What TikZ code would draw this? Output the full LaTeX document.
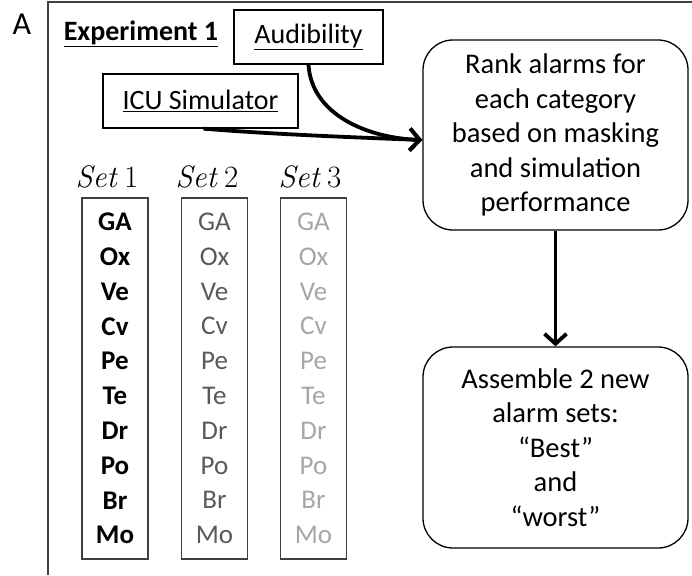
\documentclass[tikz,border=0pt]{standalone}
\usepackage{fontspec}
\setmainfont{Carlito}
\newfontfamily\lmrfont{Latin Modern Roman}
\usetikzlibrary{arrows.meta}
\definecolor{midgray}{HTML}{595959}
\definecolor{lightgray2}{HTML}{A6A6A6}
\definecolor{framegray}{HTML}{404040}
\newcommand{\setlbl}[1]{{\itshape Set\/}\kern0.2em#1}
\begin{document}
\begin{tikzpicture}[x=1pt,y=-1pt,
  txt/.style={font=\fontsize{28}{34}\selectfont, inner sep=0pt},
  sqbox/.style={draw=black, line width=1.3pt, font=\fontsize{28}{34}\selectfont, inner sep=0pt},
  roundbox/.style={draw=black, line width=1.3pt, rounded corners=30pt, align=center,
    font=\fontsize{28.5}{34.5}\selectfont, inner sep=0pt},
  setbox/.style={draw=framegray, line width=1.2pt, align=center, inner sep=0pt,
    minimum width=66pt, minimum height=361pt, font=\fontsize{27}{34.8}\selectfont},
  setlabel/.style={font=\lmrfont\fontsize{31}{36}\selectfont, inner sep=0pt},
  arr/.style={line width=3.8pt, -{Straight Barb[length=10pt,width=22pt,line width=3.8pt]}}
]
\useasboundingbox (0,0) rectangle (692,575);
% outer frame (left and top edges)
\coordinate (ftl) at (48,2);
\coordinate (fbl) at (48,575);
\coordinate (ftr) at (692,2);
\draw[framegray, line width=1.3pt] (fbl) -- (ftl) -- (ftr);

\node[txt, font=\fontsize{32}{36}\selectfont] (lblA) at (22,24) {A};
\node[txt, font=\fontsize{28}{34}\selectfont\bfseries] (exp) at (141,34) {\underline{Experiment 1}};

\node[sqbox, minimum width=149pt, minimum height=54pt] (aud) at (308.5,37) {\underline{Audibility}};
\node[sqbox, minimum width=195pt, minimum height=54pt] (icu) at (200.5,101) {\underline{ICU Simulator}};

\node[roundbox, minimum width=265pt, minimum height=190pt] (rank) at (555.5,135)
  {Rank alarms for\\each category\\based on masking\\and simulation\\performance};
\node[roundbox, minimum width=265pt, minimum height=201pt] (asm) at (555.5,447.5)
  {Assemble 2 new\\alarm sets:\\“Best”\\and\\“worst”};

\coordinate (tgt) at ([yshift=-5pt]rank.west);
\draw[arr] (aud.south) .. controls +(3,50) and +(-55,-2) .. (tgt);
\draw[arr] ([xshift=3pt]icu.south) .. controls +(60,5) and +(-80,-3) .. (tgt);
\draw[arr] (rank.south) -- (asm.north);

% sets
\node[setlabel] (s1) at (107,177) {\setlbl{1}};
\node[setlabel] (s2) at (207,177) {\setlbl{2}};
\node[setlabel] (s3) at (310,177) {\setlbl{3}};

\node[setbox, font=\fontsize{27}{34.8}\selectfont\bfseries] (b1) at (115,378.5)
  {GA\\Ox\\Ve\\Cv\\Pe\\Te\\Dr\\Po\\Br\\Mo};
\node[setbox, text=midgray] (b2) at (214.5,378.5)
  {GA\\Ox\\Ve\\Cv\\Pe\\Te\\Dr\\Po\\Br\\Mo};
\node[setbox, text=lightgray2] (b3) at (313.5,378.5)
  {GA\\Ox\\Ve\\Cv\\Pe\\Te\\Dr\\Po\\Br\\Mo};
\end{tikzpicture}
\end{document}
